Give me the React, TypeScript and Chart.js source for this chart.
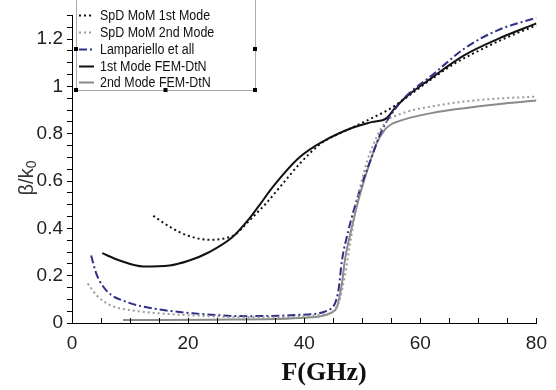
import React, { useEffect, useRef } from "react";
import { Chart, registerables } from "chart.js";

Chart.register(...registerables);

// ---- Data ----
const MOM1_FREQ = [14, 17, 20, 23.6, 26, 28.2, 30.5, 33.3, 36.2, 39.1, 43, 46, 49.3, 52, 54.5, 56, 58, 62, 66, 70, 75, 80];
const MOM1_BETA = [0.453, 0.404, 0.369, 0.352, 0.356, 0.376, 0.432, 0.502, 0.586, 0.67, 0.761, 0.8, 0.838, 0.87, 0.901, 0.925, 0.96, 1.032, 1.098, 1.15, 1.208, 1.258];

const MOM2_FREQ = [2.7, 4.2, 6.5, 9.9, 15.1, 23.6, 29.9, 35, 40, 43, 45, 46, 47, 48, 49, 50.5, 52, 53.3, 54.5, 56.2, 58, 61.9, 67.6, 73, 80];
const MOM2_BETA = [0.167, 0.118, 0.076, 0.055, 0.041, 0.029, 0.024, 0.024, 0.028, 0.035, 0.05, 0.09, 0.2, 0.35, 0.5, 0.656, 0.76, 0.824, 0.86, 0.88, 0.895, 0.915, 0.936, 0.948, 0.957];

const LAMP_FREQ = [3.3, 4.2, 5.9, 9.4, 13.9, 20.8, 29.9, 39, 44.2, 45.3, 45.9, 46.5, 47.6, 48.5, 49.9, 51.6, 53.3, 56.2, 58.5, 61.9, 67.6, 73.3, 80];
const LAMP_BETA = [0.285, 0.208, 0.138, 0.089, 0.062, 0.041, 0.029, 0.034, 0.055, 0.083, 0.138, 0.264, 0.39, 0.474, 0.586, 0.7, 0.81, 0.922, 0.98, 1.045, 1.16, 1.237, 1.29];

const FEM1_FREQ = [5.2, 8.2, 12.3, 16.8, 20.2, 23.6, 27.6, 30.5, 32.2, 34.5, 39.1, 43.3, 48.2, 51.6, 54.2, 55.6, 57.3, 61.9, 67.6, 73.3, 80];
const FEM1_BETA = [0.295, 0.264, 0.239, 0.243, 0.264, 0.299, 0.362, 0.44, 0.495, 0.572, 0.698, 0.768, 0.824, 0.849, 0.866, 0.908, 0.95, 1.035, 1.132, 1.2, 1.266];

const FEM2_FREQ = [8.8, 15, 25, 35, 40, 43, 44.8, 45.5, 45.9, 46.5, 47, 48.2, 49.3, 51, 52.5, 53.9, 55, 56.2, 58, 61.9, 67.6, 73.3, 80];
const FEM2_BETA = [0.013, 0.013, 0.014, 0.017, 0.022, 0.03, 0.045, 0.06, 0.09, 0.167, 0.264, 0.404, 0.516, 0.655, 0.76, 0.817, 0.84, 0.852, 0.866, 0.887, 0.908, 0.925, 0.94];

const SERIES_LABELS = [
  "SpD MoM 1st Mode",
  "SpD MoM 2nd Mode",
  "Lampariello et all",
  "1st Mode FEM-DtN",
  "2nd Mode FEM-DtN",
];

const X_MIN = 0;
const X_MAX = 80;
const X_STEP = 5;
const X_LABEL_EVERY = 20;
const Y_MIN = 0;
const Y_MAX = 1.3;
const Y_STEP = 0.05;
const Y_LABEL_EVERY = 0.2;

const pts = (xs: number[], ys: number[]) => xs.map((x, i) => ({ x, y: ys[i] }));

const FONT = "'Liberation Sans', Arial, sans-serif";

const innerTicksPlugin = {
  id: "innerXTicks",
  afterDraw(chart: any) {
    const { ctx, chartArea } = chart;
    const xs = chart.scales.x;
    ctx.save();
    ctx.strokeStyle = "#000";
    ctx.lineWidth = 1;
    xs.ticks.forEach((t: any) => {
      const px = Math.round(xs.getPixelForValue(t.value)) + 0.5;
      ctx.beginPath();
      ctx.moveTo(px, chartArea.bottom);
      ctx.lineTo(px, chartArea.bottom - 5);
      ctx.stroke();
    });
    ctx.restore();
  },
};

const titlesPlugin = {
  id: "axisTitles",
  afterDraw(chart: any) {
    const { ctx } = chart;
    ctx.save();
    // X title
    ctx.fillStyle = "#111";
    ctx.font = "bold 26px 'Liberation Serif', 'Times New Roman', serif";
    ctx.textAlign = "center";
    ctx.textBaseline = "middle";
    ctx.fillText("F(GHz)", 324, 373);
    // Y title rotated, with subscript
    ctx.translate(27, 178);
    ctx.rotate(-Math.PI / 2);
    ctx.fillStyle = "#333";
    const main = "β/k";
    ctx.font = `20px ${FONT}`;
    const w1 = ctx.measureText(main).width;
    ctx.font = `14px ${FONT}`;
    const w2 = ctx.measureText("0").width;
    const total = w1 + w2;
    ctx.textAlign = "left";
    ctx.textBaseline = "middle";
    ctx.font = `20px ${FONT}`;
    ctx.fillText(main, -total / 2, 0);
    ctx.font = `14px ${FONT}`;
    ctx.fillText("0", -total / 2 + w1, 5);
    ctx.restore();
  },
};

const legendPlugin = {
  id: "boxLegend",
  afterDraw(chart: any) {
    const { ctx } = chart;
    const left = 76;
    const right = 255;
    const top = -2;
    const bottom = 90;
    ctx.save();
    ctx.strokeStyle = "#aaa";
    ctx.lineWidth = 1;
    ctx.strokeRect(left + 0.5, top + 0.5, right - left, bottom - top);
    ctx.fillStyle = "#000";
    const handles = [
      [left, 49],
      [left, bottom],
      [(left + right) / 2, bottom],
      [right, bottom],
      [right, 49],
    ];
    handles.forEach(([hx, hy]) => ctx.fillRect(hx - 2, hy - 2, 4, 4));
    const rowY = [15, 32, 49, 66, 82];
    chart.data.datasets.forEach((ds: any, i: number) => {
      const y = rowY[i] + 0.5;
      ctx.save();
      ctx.strokeStyle = ds.borderColor;
      ctx.lineWidth = ds.borderWidth;
      ctx.setLineDash(ds.borderDash || []);
      ctx.beginPath();
      ctx.moveTo(79, y);
      ctx.lineTo(94, y);
      ctx.stroke();
      ctx.restore();
      ctx.save();
      ctx.translate(100, rowY[i] + 1);
      ctx.scale(0.89, 1);
      ctx.fillStyle = "#111";
      ctx.font = `14px ${FONT}`;
      ctx.textAlign = "left";
      ctx.textBaseline = "middle";
      ctx.fillText(ds.label, 0, 0);
      ctx.restore();
    });
    ctx.restore();
  },
};

export default function App() {
  const canvasRef = useRef<HTMLCanvasElement | null>(null);

  useEffect(() => {
    if (!canvasRef.current) return;
    const common = {
      pointRadius: 0,
      fill: false,
      cubicInterpolationMode: "monotone" as const,
      showLine: true,
    };
    const chart = new Chart(canvasRef.current, {
      type: "scatter",
      data: {
        datasets: [
          {
            ...common,
            label: SERIES_LABELS[0],
            data: pts(MOM1_FREQ, MOM1_BETA),
            borderColor: "#111",
            borderWidth: 2,
            borderDash: [2, 3],
          },
          {
            ...common,
            label: SERIES_LABELS[1],
            data: pts(MOM2_FREQ, MOM2_BETA),
            borderColor: "#9a9a9a",
            borderWidth: 2,
            borderDash: [2, 3],
          },
          {
            ...common,
            label: SERIES_LABELS[2],
            data: pts(LAMP_FREQ, LAMP_BETA),
            borderColor: "#2f2f86",
            borderWidth: 2,
            borderDash: [8, 3, 2, 3],
          },
          {
            ...common,
            label: SERIES_LABELS[3],
            data: pts(FEM1_FREQ, FEM1_BETA),
            borderColor: "#111",
            borderWidth: 2,
          },
          {
            ...common,
            label: SERIES_LABELS[4],
            data: pts(FEM2_FREQ, FEM2_BETA),
            borderColor: "#8a8a8a",
            borderWidth: 2,
          },
        ],
      },
      options: {
        responsive: false,
        animation: false,
        layout: { padding: { left: 0, right: 17, top: 13, bottom: 0 } },
        plugins: {
          legend: { display: false },
          tooltip: { enabled: false },
        },
        scales: {
          x: {
            type: "linear",
            min: X_MIN,
            max: X_MAX,
            afterFit: (s: any) => {
              s.height = 67;
            },
            grid: { display: true, drawOnChartArea: false, drawTicks: false },
            border: { display: true, color: "#000", width: 1 },
            ticks: {
              stepSize: X_STEP,
              autoSkip: false,
              maxRotation: 0,
              padding: 9,
              color: "#222",
              font: { family: FONT, size: 19 },
              callback: (v: any) => (Math.round(v) % X_LABEL_EVERY === 0 ? String(v) : ""),
            },
          },
          y: {
            type: "linear",
            min: Y_MIN,
            max: Y_MAX,
            afterFit: (s: any) => {
              s.width = 72;
            },
            grid: {
              display: true,
              drawOnChartArea: false,
              drawTicks: true,
              tickLength: 5,
              color: "#000",
            },
            border: { display: true, color: "#000", width: 1 },
            ticks: {
              stepSize: Y_STEP,
              autoSkip: false,
              padding: 4,
              color: "#222",
              font: { family: FONT, size: 19 },
              callback: (v: any) => {
                const n = Math.round(Number(v) * 100);
                const step = Math.round(Y_LABEL_EVERY * 100);
                if (n % step !== 0) return "";
                return String(Number((n / 100).toFixed(1)));
              },
            },
          },
        },
      },
      plugins: [innerTicksPlugin, titlesPlugin, legendPlugin],
    } as any);
    return () => chart.destroy();
  }, []);

  return (
    <div style={{ position: "absolute", left: 0, top: 0, width: 556, height: 390, background: "#fff" }}>
      <canvas ref={canvasRef} width={556} height={390} style={{ display: "block" }} />
    </div>
  );
}
